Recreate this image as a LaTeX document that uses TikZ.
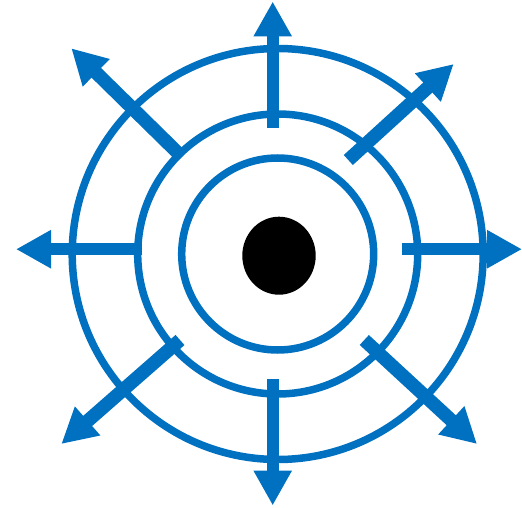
\documentclass[tikz,border=0pt]{standalone}
\usetikzlibrary{arrows.meta}
\definecolor{ringblue}{HTML}{0070C0}
\tikzset{
  ring/.style={draw=ringblue, line width=7.5pt},
  ray/.style={draw=ringblue, line width=12pt, -{Triangle[length=35pt,width=36pt]}},
  diagray/.style={ray, line width=13.5pt},
}
\begin{document}
\begin{tikzpicture}[x=1pt,y=-1pt]
\useasboundingbox (0,0) rectangle (522,508);
\coordinate (c) at (277.7,254);
\draw[ring] (c) circle[radius=205.5];
\draw[ring] (c) circle[radius=140];
\draw[ring] (c) circle[radius=96];
\fill[black] (279,255.7) ellipse[x radius=36.7, y radius=39];
% ray coordinates
\coordinate (nT) at (272.7,128);   \coordinate (nH) at (272.7,1.5);
\coordinate (sT) at (272.7,379);   \coordinate (sH) at (272.7,505.5);
\coordinate (wT) at (142.3,249.2); \coordinate (wH) at (16,249.2);
\coordinate (eT) at (401.7,249.2); \coordinate (eH) at (522,249.2);
\coordinate (neT) at (348.3,160);  \coordinate (neH) at (453.7,64);
\coordinate (nwT) at (180,155);    \coordinate (nwH) at (71.3,48.3);
\coordinate (swT) at (180,340);    \coordinate (swH) at (61.3,444);
\coordinate (seT) at (364.3,340);  \coordinate (seH) at (477,444);
\foreach \r in {n,s,w,e}{
  \draw[ray] (\r T) -- (\r H);
}
\foreach \r in {ne,nw,sw,se}{
  \draw[diagray] (\r T) -- (\r H);
}
\end{tikzpicture}
\end{document}
